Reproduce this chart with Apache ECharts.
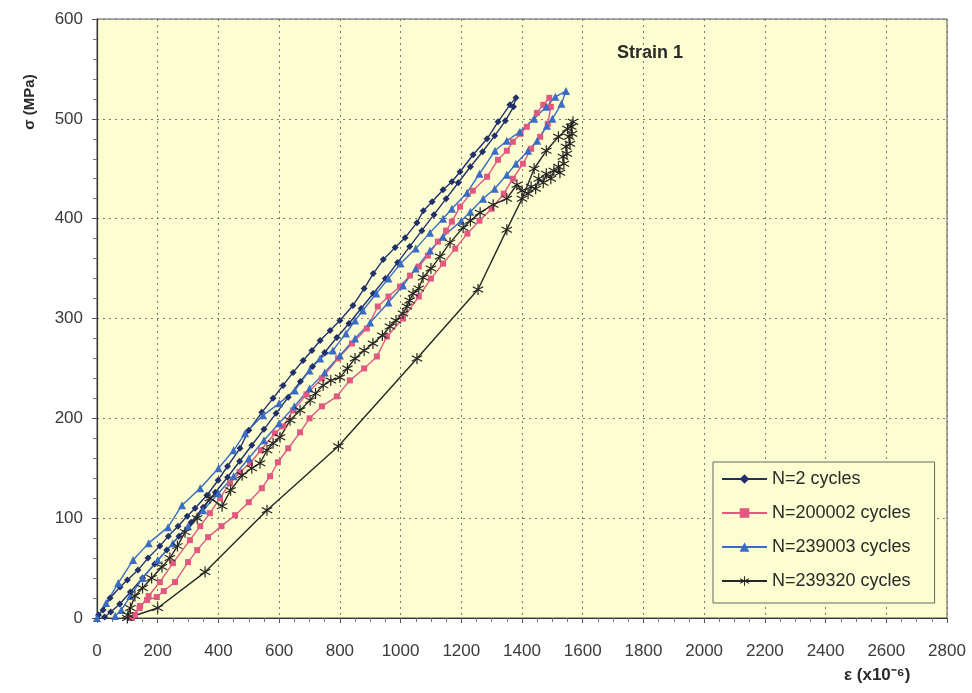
<!DOCTYPE html>
<html><head><meta charset="utf-8">
<script src="https://cdn.jsdelivr.net/npm/echarts@6/dist/echarts.min.js"></script>
<style>html,body{margin:0;padding:0;background:#fff}#c{width:972px;height:693px}</style>
</head><body><div id="c"></div>
<script>
// ---- data (strain in 1e-6, stress in MPa) ----
const seriesNames = ['N=2 cycles', 'N=200002 cycles', 'N=239003 cycles', 'N=239320 cycles'];
const xTicks = [0,200,400,600,800,1000,1200,1400,1600,1800,2000,2200,2400,2600,2800];
const yTicks = [0,100,200,300,400,500,600];

const n2Loop = [
 [5,3],[20,8],[43,20],[76,31],[100,38],[135,48],[168,60],[207,72],[235,82],[267,92],[297,102],[323,110],[362,123],[399,138],[430,152],[471,170],[500,188],[543,206],[580,220],[613,233],[646,246],[679,258],[708,268],[735,278],[768,288],[800,298],[843,313],[880,330],[910,345],[943,359],[982,371],[1015,381],[1054,396],[1075,408],[1104,417],[1140,429],[1169,437],[1196,447],[1239,464],[1285,480],[1321,497],[1360,514],[1380,521],
 [1372,512],[1345,498],[1310,483],[1270,467],[1230,452],[1190,436],[1150,420],[1110,404],[1070,388],[1030,372],[990,356],[950,340],[910,325],[870,310],[830,295],[790,281],[750,266],[710,252],[670,237],[630,221],[590,205],[550,189],[510,173],[470,157],[430,141],[390,126],[350,111],[310,96],[270,82],[230,68],[190,54],[150,40],[110,26],[75,14],[45,6],[25,1]
];
const n200002Loop = [
 [110,0],[140,10],[170,22],[207,36],[250,55],[306,78],[340,92],[372,105],[405,120],[438,135],[470,146],[504,155],[540,168],[586,185],[613,192],[646,208],[690,224],[741,240],[794,260],[840,275],[889,290],[925,312],[960,322],[998,332],[1031,343],[1060,352],[1090,363],[1123,377],[1150,388],[1169,397],[1196,412],[1238,428],[1285,442],[1321,459],[1350,468],[1370,477],[1395,485],[1416,492],[1449,506],[1470,514],[1490,521],
 [1495,512],[1485,495],[1460,482],[1430,470],[1403,455],[1370,440],[1340,425],[1300,410],[1260,398],[1220,385],[1180,370],[1140,355],[1100,340],[1060,322],[1008,300],[955,282],[922,262],[880,250],[833,238],[790,222],[741,212],[700,200],[669,186],[630,170],[596,156],[570,142],[543,130],[500,116],[455,103],[410,92],[366,81],[330,68],[300,56],[257,36],[220,27],[197,21],[165,18],[142,12],[125,3],[115,0]
];
const n239003Loop = [
 [0,0],[30,15],[70,35],[119,58],[170,75],[234,91],[280,113],[340,130],[400,150],[450,168],[488,185],[547,203],[600,215],[652,228],[700,248],[735,260],[777,268],[820,285],[850,298],[876,308],[920,325],[960,340],[1000,355],[1050,370],[1097,386],[1140,400],[1169,410],[1219,426],[1260,445],[1311,468],[1350,478],[1393,487],[1440,500],[1480,512],[1510,522],[1545,528],
 [1530,515],[1500,500],[1482,493],[1450,478],[1420,468],[1380,455],[1350,444],[1310,430],[1272,420],[1230,407],[1200,398],[1140,382],[1097,368],[1050,350],[1008,333],[960,316],[900,296],[850,280],[800,263],[750,246],[700,230],[650,212],[600,195],[550,178],[500,160],[450,142],[400,125],[350,108],[300,92],[250,75],[200,58],[150,40],[110,22],[80,8],[60,2]
];
const n239320Loop = [
 [100,0],[200,10],[356,46],[560,108],[795,172],[1054,260],[1255,329],[1350,389],[1400,420],[1440,450],[1480,468],[1520,482],[1550,490],[1568,497],
 [1562,492],[1565,485],[1555,482],[1558,475],[1545,472],[1548,465],[1535,462],[1538,455],[1520,452],[1525,446],[1505,448],[1495,440],[1480,445],[1470,436],[1455,440],[1445,430],[1430,432],[1420,425],[1400,428],[1383,434],[1350,420],[1305,414],[1262,406],[1230,398],[1206,391],[1163,376],[1130,362],[1100,350],[1074,341],[1060,330],[1041,325],[1030,318],[1021,312],[1008,305],[985,298],[965,292],[940,283],[909,275],[880,268],[850,260],[825,250],[800,241],[770,238],[745,233],[720,225],[702,218],[669,208],[636,198],[603,181],[580,175],[560,168],[537,155],[510,150],[478,143],[440,128],[412,112],[372,120],[330,100],[290,86],[265,72],[240,60],[214,51],[180,40],[150,30],[125,22],[110,10],[102,3]
];

const colors = ['#22306a', '#e2587f', '#3a6cc4', '#262626'];
const asterisk = 'path://M-1,-10L1,-10L1,10L-1,10Z M9.16,4.13L8.16,5.87L-9.16,-4.13L-8.16,-5.87Z M-8.16,5.87L-9.16,4.13L8.16,-5.87L9.16,-4.13Z';
const symbols = ['diamond', 'rect', 'triangle', asterisk];
const symbolSizes = [7, 6, 8, 11];
const loops = [n2Loop, n200002Loop, n239003Loop, n239320Loop];

const font = 'Liberation Sans, Arial, sans-serif';
const chart = echarts.init(document.getElementById('c'), null, {renderer: 'canvas'});
chart.setOption({
  animation: false,
  backgroundColor: '#ffffff',
  grid: {left: 97, top: 19, right: 25, bottom: 75, show: true, backgroundColor: '#fdfdd2', borderColor: '#555', borderWidth: 1},
  xAxis: {
    type: 'value', min: 0, max: 2800, interval: 200,
    axisLine: {lineStyle: {color: '#333', width: 1.2}},
    axisTick: {show: true, inside: false, length: 5, lineStyle: {color: '#555'}},
    minorTick: {show: true, splitNumber: 4, length: 4, lineStyle: {color: '#777'}},
    axisLabel: {color: '#3a3a3a', fontSize: 17, fontFamily: font, margin: 25,
      formatter: v => xTicks.includes(v) ? String(v) : ''},
    splitLine: {show: true, lineStyle: {color: '#777', type: [2, 4], width: 1}}
  },
  yAxis: {
    type: 'value', min: 0, max: 600, interval: 100,
    axisLine: {show: true, lineStyle: {color: '#333', width: 1.2}},
    axisTick: {show: true, length: 5, lineStyle: {color: '#555'}},
    minorTick: {show: true, splitNumber: 5, length: 4, lineStyle: {color: '#777'}},
    axisLabel: {color: '#3a3a3a', fontSize: 17, fontFamily: font, margin: 14,
      formatter: v => yTicks.includes(v) ? String(v) : ''},
    splitLine: {show: true, lineStyle: {color: '#777', type: [2, 4], width: 1}}
  },
  legend: {
    orient: 'vertical', left: 713, top: 462,
    data: seriesNames,
    itemWidth: 45, itemHeight: 12, itemGap: 16,
    padding: [8, 24, 13, 8],
    backgroundColor: '#fdfdd2', borderColor: '#666', borderWidth: 1, borderRadius: 0,
    textStyle: {color: '#2a2a2a', fontSize: 18, fontFamily: font}
  },
  series: loops.map((d, i) => ({
    name: seriesNames[i], type: 'line', data: d,
    symbol: symbols[i], symbolSize: symbolSizes[i], showSymbol: true,
    lineStyle: {color: colors[i], width: 1.4},
    itemStyle: {color: colors[i]},
    emphasis: {disabled: true}
  })),
  graphic: [
    {type: 'text', left: 617, top: 44, style: {text: 'Strain 1', fontSize: 18, fontWeight: 'bold', fontFamily: font, fill: '#2a2a2a'}},
    {type: 'text', x: 30, y: 102, rotation: Math.PI / 2, style: {text: 'σ (MPa)', fontSize: 15, fontWeight: 'bold', fontFamily: font, fill: '#2a2a2a', align: 'center', verticalAlign: 'middle'}},
    {type: 'text', left: 844, top: 667, style: {text: 'ε (x10⁻⁶)', fontSize: 17, fontWeight: 'bold', fontFamily: font, fill: '#2a2a2a'}}
  ]
});
</script></body></html>
